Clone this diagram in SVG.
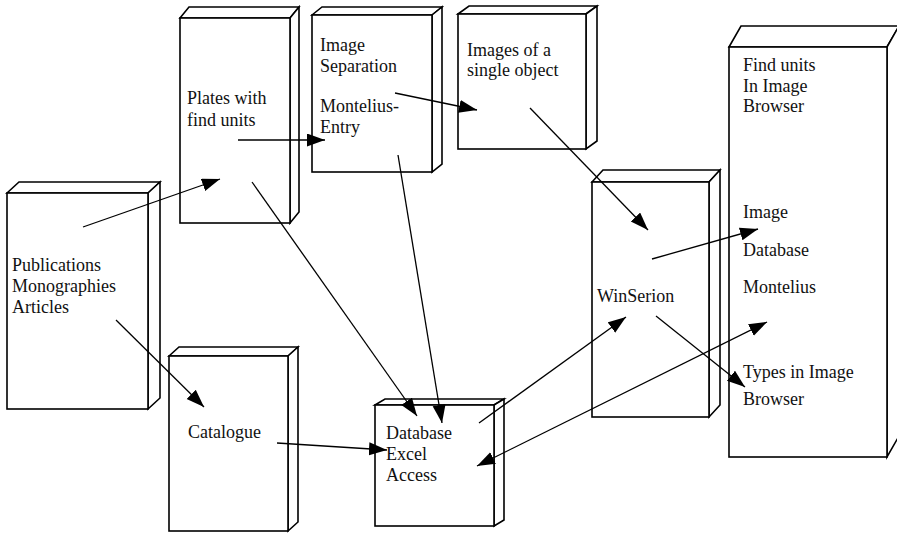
<svg xmlns="http://www.w3.org/2000/svg" width="897" height="534" viewBox="0 0 897 534">
<defs>
<marker id="ah" markerUnits="userSpaceOnUse" markerWidth="20" markerHeight="14" refX="18" refY="6.5" orient="auto-start-reverse">
<path d="M0,0 L18,6.5 L0,13 z" fill="#000"/>
</marker>
<style>
.box{fill:#fff;stroke:#000;stroke-width:1.6;stroke-linejoin:miter}
.t{font-family:"Liberation Serif","Times New Roman",serif;font-size:18px;fill:#111}
.c{fill:none;stroke:#000;stroke-width:1.3}
.a{marker-end:url(#ah)}
</style>
</defs>
<rect width="897" height="534" fill="#fff"/>

<g id="publications">
<path class="box" d="M7,193 L19,182 L160,182 L148,193 Z"/>
<path class="box" d="M148,193 L160,182 L160,398 L148,409 Z"/>
<rect class="box" x="7" y="193" width="141" height="216"/>
<text class="t" x="12" y="271">Publications</text>
<text class="t" x="12" y="292">Monographies</text>
<text class="t" x="12" y="313">Articles</text>
</g>

<g id="plates">
<path class="box" d="M180,18 L189,7 L299,7 L290,18 Z"/>
<path class="box" d="M290,18 L299,7 L299,212 L290,223 Z"/>
<rect class="box" x="180" y="18" width="110" height="205"/>
<text class="t" x="187" y="104">Plates with</text>
<text class="t" x="187" y="126">find units</text>
</g>

<g id="image-separation">
<path class="box" d="M312,15 L322,7 L442,7 L432,15 Z"/>
<path class="box" d="M432,15 L442,7 L442,164 L432,172 Z"/>
<rect class="box" x="312" y="15" width="120" height="157"/>
<text class="t" x="320" y="51">Image</text>
<text class="t" x="320" y="72">Separation</text>
<text class="t" x="320" y="112">Montelius-</text>
<text class="t" x="320" y="133">Entry</text>
</g>

<g id="images-single-object">
<path class="box" d="M458,14 L469,6 L597,6 L586,14 Z"/>
<path class="box" d="M586,14 L597,6 L597,141 L586,149 Z"/>
<rect class="box" x="458" y="14" width="128" height="135"/>
<text class="t" x="467" y="56">Images of a</text>
<text class="t" x="467" y="76">single object</text>
</g>

<g id="winserion">
<path class="box" d="M592,182 L603,170 L720,170 L709,182 Z"/>
<path class="box" d="M709,182 L720,170 L720,405 L709,417 Z"/>
<rect class="box" x="592" y="182" width="117" height="235"/>
<text class="t" x="597" y="302">WinSerion</text>
</g>

<g id="find-units">
<path class="box" d="M729,47 L741,26 L899,26 L887,47 Z"/>
<path class="box" d="M887,47 L899,26 L899,436 L887,457 Z"/>
<rect class="box" x="729" y="47" width="158" height="410"/>
<text class="t" x="743" y="71">Find units</text>
<text class="t" x="743" y="92">In Image</text>
<text class="t" x="743" y="112">Browser</text>
<text class="t" x="743" y="218">Image</text>
<text class="t" x="743" y="256">Database</text>
<text class="t" x="743" y="293">Montelius</text>
<text class="t" x="743" y="378">Types in Image</text>
<text class="t" x="743" y="405">Browser</text>
</g>

<g id="catalogue">
<path class="box" d="M169,356 L179,347 L298,347 L288,356 Z"/>
<path class="box" d="M288,356 L298,347 L298,522 L288,531 Z"/>
<rect class="box" x="169" y="356" width="119" height="175"/>
<text class="t" x="188" y="438">Catalogue</text>
</g>

<g id="database">
<path class="box" d="M375,405 L385,399 L504,399 L494,405 Z"/>
<path class="box" d="M494,405 L504,399 L504,520 L494,526 Z"/>
<rect class="box" x="375" y="405" width="119" height="121"/>
<text class="t" x="386" y="439">Database</text>
<text class="t" x="386" y="460">Excel</text>
<text class="t" x="386" y="481">Access</text>
</g>

<g id="connectors">
<line class="c a" x1="83" y1="227" x2="220" y2="179"/>
<line class="c a" x1="238" y1="140" x2="325" y2="140"/>
<line class="c a" x1="395" y1="93" x2="477" y2="110"/>
<line class="c a" x1="530" y1="108" x2="648" y2="230"/>
<line class="c a" x1="652" y1="259" x2="758" y2="229"/>
<line class="c a" x1="656" y1="316" x2="745" y2="387"/>
<line class="c a" x1="479" y1="423" x2="626" y2="317"/>
<line class="c a" x1="477" y1="466" x2="767" y2="322" marker-start="url(#ah)"/>
<line class="c a" x1="116" y1="320" x2="204" y2="407"/>
<line class="c a" x1="277" y1="443" x2="387" y2="450"/>
<line class="c a" x1="252" y1="182" x2="417" y2="416"/>
<line class="c a" x1="398" y1="155" x2="442" y2="423"/>
</g>
</svg>
